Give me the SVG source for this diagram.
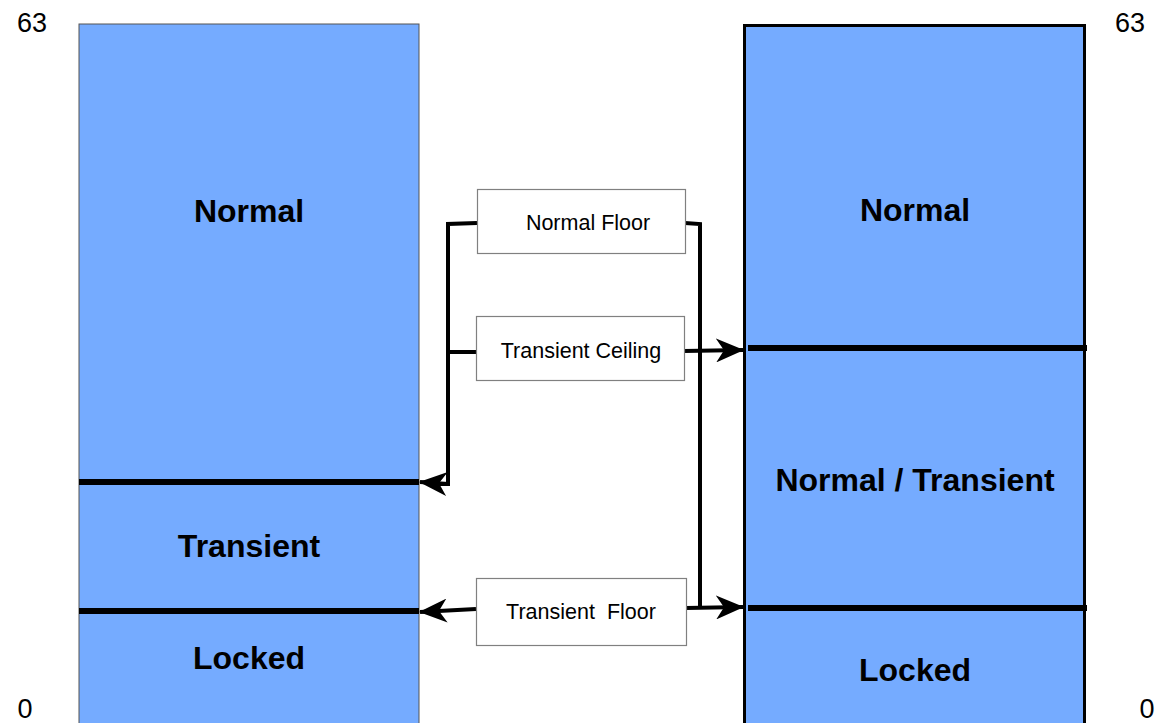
<svg xmlns="http://www.w3.org/2000/svg" width="1156" height="723" viewBox="0 0 1156 723">
<defs>
<style>
.col{fill:#75abff}
.big{font-family:"Liberation Sans",Arial,sans-serif;font-weight:bold;font-size:32px;fill:#000;text-anchor:middle}
.num{font-family:"Liberation Sans",Arial,sans-serif;font-size:27px;fill:#000;text-anchor:middle}
.lbl{font-family:"Liberation Sans",Arial,sans-serif;font-size:21.5px;fill:#000;text-anchor:middle}
.box{fill:#fff;stroke:#808080;stroke-width:1.2}
.div{stroke:#000;stroke-width:6}
.con{fill:none;stroke:#000;stroke-width:4}
</style>
<marker id="ah" viewBox="0 0 28 24" refX="27" refY="12" markerWidth="28" markerHeight="24" markerUnits="userSpaceOnUse" orient="auto">
<path d="M0,0 L28,12 L0,24 L8,12 Z" fill="#000"/>
</marker>
</defs>
<rect width="1156" height="723" fill="#fff"/>
<g id="left-column">
<rect x="79" y="24" width="340" height="710" class="col" stroke="#555" stroke-width="1"/>
<line x1="79" y1="482" x2="419" y2="482" class="div"/>
<line x1="79" y1="611" x2="419" y2="611" class="div"/>
<text x="249" y="221.5" class="big">Normal</text>
<text x="249" y="556.5" class="big">Transient</text>
<text x="249" y="668.5" class="big">Locked</text>
</g>
<g id="right-column">
<rect x="744.5" y="25.5" width="340" height="710" class="col" stroke="#000" stroke-width="3"/>
<line x1="748" y1="348" x2="1087" y2="348" class="div"/>
<line x1="748" y1="608" x2="1087" y2="608" class="div"/>
<text x="915" y="220.5" class="big">Normal</text>
<text x="915" y="490.5" class="big">Normal / Transient</text>
<text x="915" y="680.5" class="big">Locked</text>
</g>
<g id="scale">
<text x="32" y="32" class="num">63</text>
<text x="1130" y="32" class="num">63</text>
<text x="25" y="718" class="num">0</text>
<text x="1147" y="718" class="num">0</text>
</g>
<g id="connectors">
<polyline points="477,223 448,224 448,484 438,484" class="con"/>
<line x1="448" y1="484" x2="420" y2="482" class="con" marker-end="url(#ah)"/>
<line x1="476" y1="352" x2="448" y2="352" class="con"/>
<line x1="684" y1="351" x2="743" y2="350" class="con" marker-end="url(#ah)"/>
<polyline points="685,223 700,224 700,608" class="con"/>
<line x1="686" y1="608" x2="743" y2="607" class="con" marker-end="url(#ah)"/>
<line x1="476" y1="609" x2="420" y2="612" class="con" marker-end="url(#ah)"/>
</g>
<g id="normal-floor">
<rect x="477.5" y="189.5" width="208" height="64" class="box"/>
<text x="588" y="229.5" class="lbl">Normal Floor</text>
</g>
<g id="transient-ceiling">
<rect x="476.5" y="316.5" width="208" height="64" class="box"/>
<text x="581" y="357.5" class="lbl">Transient Ceiling</text>
</g>
<g id="transient-floor">
<rect x="476.5" y="578.5" width="210" height="67" class="box"/>
<text x="581" y="618.5" class="lbl" xml:space="preserve">Transient  Floor</text>
</g>
</svg>
